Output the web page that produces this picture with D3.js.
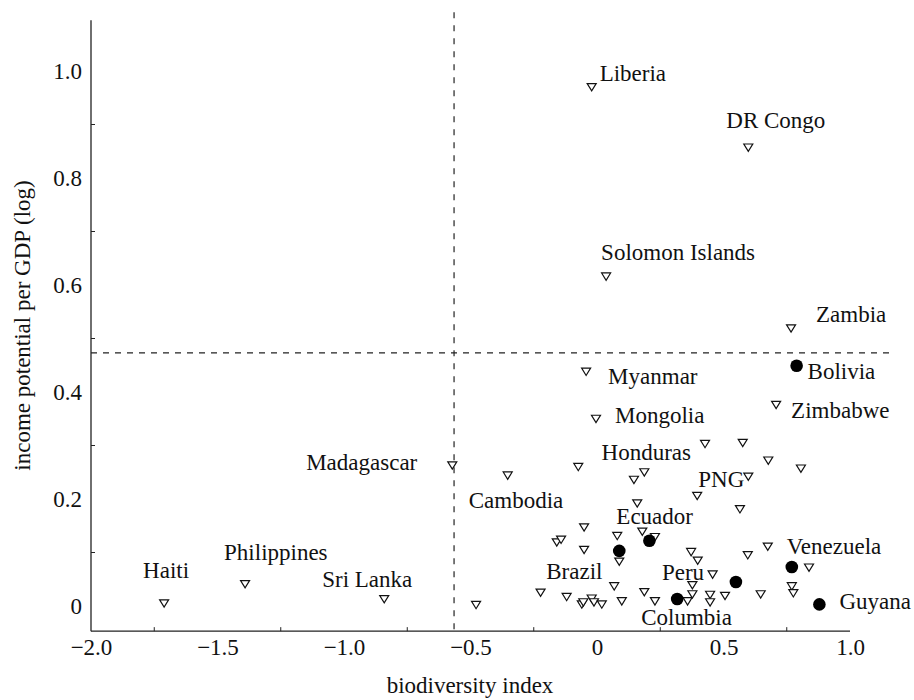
<!DOCTYPE html>
<html>
<head>
<meta charset="utf-8">
<script src="https://cdn.jsdelivr.net/npm/d3@7"></script>
<style>
  body { margin: 0; background: #fff; }
  text { font-family: "Liberation Serif", "Times New Roman", serif; fill: #111; }
</style>
</head>
<body>
<div id="chart"></div>
<script>
// triangles: countries (blank name = unlabeled)
let triNames = ["Liberia", "DR Congo", "Solomon Islands", "Zambia", "Myanmar", "Mongolia",
  "Zimbabwe", "Madagascar", "Honduras", "PNG", "Cambodia", "Haiti", "Philippines", "Sri Lanka",
  "", "", "", "", "", "", "", "", "", "", "", "", "", "", "", "", "", "", "", "", "", "",
  "", "", "", "", "", "", "", "", "", "", "", "", "", "", "", "", "", "", "", "", "", ""];
let triX = [-0.021, 0.598, 0.036, 0.767, -0.043, -0.004,
  0.708, -0.572, 0.427, 0.598, -0.353, -1.711, -1.391, -0.841,
  0.576, 0.677, 0.806, -0.074, 0.146, 0.187, 0.396, 0.159, 0.565, -0.051, 0.080, 0.179,
  0.229, -0.159, -0.142, -0.051, 0.088, 0.372, 0.398, 0.596, 0.675, 0.838, 0.457, 0.377,
  0.068, -0.223, -0.120, -0.060, -0.054, -0.021, -0.012, 0.019, 0.098, 0.187, 0.229, 0.358,
  0.377, 0.447, 0.447, 0.506, 0.647, 0.770, 0.776, -0.478];
let triY = [0.970, 0.857, 0.616, 0.519, 0.438, 0.350,
  0.376, 0.263, 0.303, 0.242, 0.244, 0.005, 0.041, 0.013,
  0.305, 0.272, 0.257, 0.260, 0.236, 0.250, 0.206, 0.192, 0.181, 0.147, 0.131, 0.139,
  0.129, 0.119, 0.124, 0.105, 0.083, 0.101, 0.085, 0.095, 0.111, 0.072, 0.059, 0.039,
  0.037, 0.025, 0.017, 0.003, 0.007, 0.014, 0.007, 0.003, 0.009, 0.026, 0.009, 0.009,
  0.022, 0.021, 0.007, 0.019, 0.022, 0.037, 0.024, 0.002];

// filled circles
let dotNames = ["Bolivia", "Ecuador", "Brazil", "Peru", "Columbia", "Venezuela", "Guyana"];
let dotX = [0.789, 0.207, 0.088, 0.549, 0.317, 0.770, 0.879];
let dotY = [0.449, 0.122, 0.103, 0.045, 0.013, 0.073, 0.003];

let xTicks = [-2.0, -1.5, -1.0, -0.5, 0, 0.5, 1.0];
let yTicks = [0, 0.2, 0.4, 0.6, 0.8, 1.0];
let xMinor = [-1.75, -1.25, -0.75, -0.25, 0.25, 0.75];
let yMinor = [0.1, 0.3, 0.5, 0.7, 0.9];
let xCut = -0.565, yCut = 0.473;

let W = 914, H = 700;
let fs = 23;

// label placement: offset from point, px
let lab = {
  "Liberia": [8, -6], "DR Congo": [-22, -20], "Solomon Islands": [-5, -16],
  "Zambia": [25, -6], "Myanmar": [22, 12], "Mongolia": [19, 4], "Zimbabwe": [15, 13],
  "Madagascar": [-35, 5, "end"], "Honduras": [-14, 16, "end"], "PNG": [-4, 10, "end"],
  "Cambodia": [-39, 33], "Haiti": [-21, -25], "Philippines": [-21, -24],
  "Sri Lanka": [-62, -12], "Bolivia": [11, 13], "Ecuador": [-33, -17],
  "Brazil": [-73, 28], "Peru": [-74, -2], "Columbia": [-36, 26],
  "Venezuela": [-5, -13], "Guyana": [20, 5]
};

let x = d3.scaleLinear().domain([-2, 1]).range([91, 850]);
let y = d3.scaleLinear().domain([0, 1]).range([606, 71]);
let yBottom = y(-0.047), yTop = y(1.095);

let svg = d3.select("#chart").append("svg")
  .attr("width", W).attr("height", H);

let fmt = d => d === 0 ? "0" : d3.format(".1f")(d);

// axes
let gx = svg.append("g").attr("transform", "translate(0," + yBottom + ")")
  .call(d3.axisBottom(x).tickValues(xTicks).tickFormat(fmt).tickSize(0).tickPadding(8));
let gy = svg.append("g").attr("transform", "translate(" + x(-2) + ",0)")
  .call(d3.axisLeft(y).tickValues(yTicks).tickFormat(fmt).tickSize(0).tickPadding(9));
gx.select(".domain").remove();
gy.select(".domain").remove();
svg.selectAll(".tick text").style("font-size", fs + "px")
  .style("font-family", '"Liberation Serif", serif').attr("fill", "#111");

svg.append("line").attr("x1", x(-2)).attr("x2", x(1)).attr("y1", yBottom).attr("y2", yBottom)
  .attr("stroke", "#222").attr("stroke-width", 1.3);
svg.append("line").attr("x1", x(-2)).attr("x2", x(-2)).attr("y1", yBottom).attr("y2", yTop)
  .attr("stroke", "#222").attr("stroke-width", 1.3);

// minor ticks, inward
svg.selectAll(".mx").data(xMinor).enter().append("line")
  .attr("x1", d => x(d)).attr("x2", d => x(d))
  .attr("y1", yBottom).attr("y2", yBottom - 4)
  .attr("stroke", "#222").attr("stroke-width", 1);
svg.selectAll(".my").data(yMinor).enter().append("line")
  .attr("x1", x(-2)).attr("x2", x(-2) + 4)
  .attr("y1", d => y(d)).attr("y2", d => y(d))
  .attr("stroke", "#222").attr("stroke-width", 1);

// dashed cut lines
svg.append("line").attr("x1", x(xCut)).attr("x2", x(xCut))
  .attr("y1", y(1.11)).attr("y2", yBottom)
  .attr("stroke", "#222").attr("stroke-width", 1.2).attr("stroke-dasharray", "6,7");
svg.append("line").attr("x1", x(-2)).attr("x2", x(1.158))
  .attr("y1", y(yCut)).attr("y2", y(yCut))
  .attr("stroke", "#222").attr("stroke-width", 1.2).attr("stroke-dasharray", "6,6");

// axis titles
svg.append("text").attr("x", 470).attr("y", 693).attr("text-anchor", "middle")
  .style("font-size", fs + "px").text("biodiversity index");
svg.append("text").attr("transform", "translate(30,325.5) rotate(-90)")
  .attr("text-anchor", "middle").style("font-size", fs + "px")
  .text("income potential per GDP (log)");

// points
let tri = triX.map((v, i) => ({ name: triNames[i], x: v, y: triY[i] }));
let dots = dotX.map((v, i) => ({ name: dotNames[i], x: v, y: dotY[i] }));

svg.selectAll(".tri").data(tri).enter().append("path")
  .attr("d", "M-4.5,-3.5L4.5,-3.5L0,3.8Z")
  .attr("transform", d => "translate(" + x(d.x) + "," + y(d.y) + ")")
  .attr("fill", "#fff").attr("stroke", "#111").attr("stroke-width", 1.2);

svg.selectAll(".dot").data(dots).enter().append("circle")
  .attr("cx", d => x(d.x)).attr("cy", d => y(d.y)).attr("r", 6.3)
  .attr("fill", "#000");

// labels
let labelled = tri.concat(dots).filter(d => d.name !== "");
svg.selectAll(".lab").data(labelled).enter().append("text")
  .attr("x", d => x(d.x) + lab[d.name][0])
  .attr("y", d => y(d.y) + lab[d.name][1])
  .attr("text-anchor", d => lab[d.name][2] || "start")
  .style("font-size", fs + "px")
  .text(d => d.name);
</script>
</body>
</html>
